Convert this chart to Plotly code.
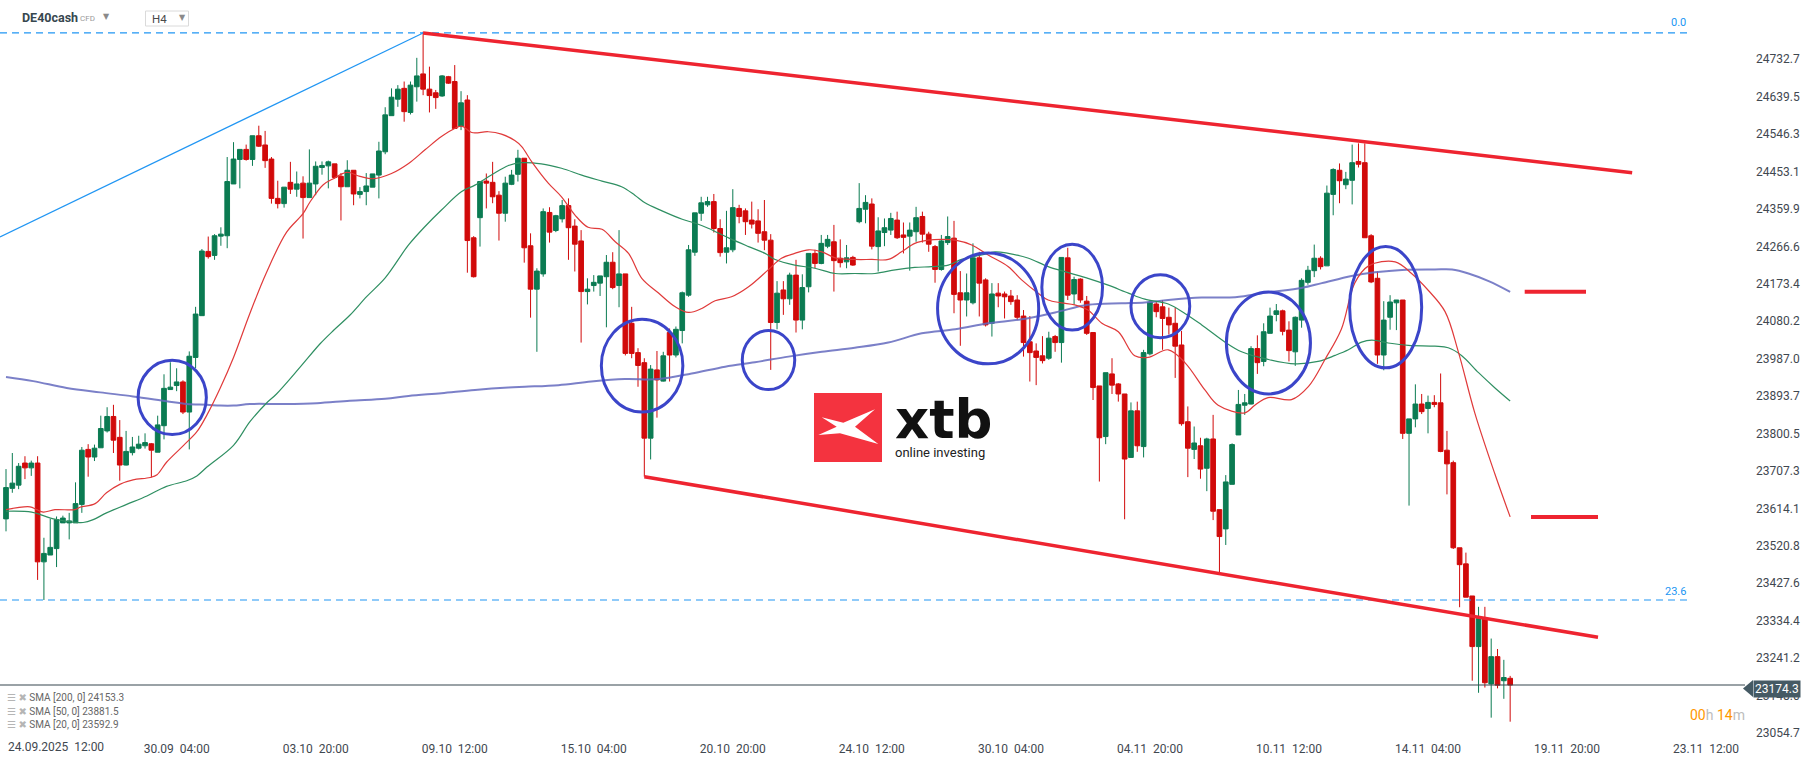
import plotly.graph_objects as go

W, H = 1815, 761
ML, MR, MT, MB = 0, 66, 0, 21
PW = W - ML - MR
PH = H - MT - MB

# ---------------- data ----------------
opens = [23588, 23664, 23672, 23727, 23715, 23727, 23481, 23498, 23514, 23578,
         23578, 23578, 23624, 23761, 23742, 23765, 23807, 23843, 23791, 23722,
         23753, 23764, 23770, 23775, 23754, 23820, 23910, 23920, 23929, 23854,
         23990, 24094, 24254, 24244, 24292, 24293, 24422, 24483, 24508, 24483,
         24542, 24519, 24484, 24386, 24373, 24426, 24409, 24424, 24388, 24422,
         24463, 24467, 24472, 24441, 24415, 24456, 24396, 24403, 24414, 24444,
         24502, 24592, 24633, 24660, 24600, 24664, 24696, 24658, 24649, 24641,
         24689, 24677, 24565, 24631, 24288, 24338, 24429, 24426, 24394, 24349,
         24421, 24446, 24486, 24268, 24160, 24198, 24351, 24306, 24335, 24368,
         24317, 24280, 24154, 24169, 24175, 24191, 24227, 24169, 24198, 24075,
         24002, 23977, 23789, 23959, 23931, 24052, 23996, 24057, 24145, 24252,
         24349, 24370, 24378, 24311, 24252, 24258, 24361, 24355, 24332, 24330,
         24303, 24282, 24077, 24158, 24136, 24195, 24083, 24166, 24249, 24224,
         24267, 24278, 24237, 24228, 24239, 24328, 24359, 24372, 24266, 24301,
         24307, 24332, 24295, 24292, 24303, 24341, 24297, 24266, 24209, 24276,
         24287, 24151, 24133, 24126, 24238, 24183, 24075, 24150, 24148, 24143,
         24133, 24093, 24029, 24006, 23994, 23988, 24042, 24027, 24238, 24148,
         24185, 24130, 24052, 23919, 23793, 23949, 23924, 23899, 23741, 23857,
         23768, 23999, 24123, 24116, 24090, 24075, 24021, 23830, 23761, 23770,
         23714, 23787, 23611, 23563, 23674, 23797, 23871, 23874, 24012, 23980,
         24050, 24097, 24106, 24058, 24004, 24083, 24177, 24206, 24237, 24218,
         24396, 24456, 24420, 24431, 24478, 24475, 24293, 24187, 23996, 24090,
         24126, 24133, 23801, 23837, 23874, 23863, 23878, 23877, 23759, 23728,
         23516, 23476, 23396, 23270, 23340, 23177, 23245, 23185, 23191]
highs = [23712, 23752, 23727, 23744, 23733, 23744, 23541, 23588, 23594, 23596,
         23603, 23679, 23767, 23774, 23773, 23845, 23866, 23872, 23834, 23807,
         23792, 23795, 23801, 23777, 23845, 23948, 23978, 23963, 23933, 24005,
         24116, 24260, 24291, 24297, 24314, 24489, 24526, 24508, 24520, 24542,
         24567, 24554, 24489, 24430, 24414, 24477, 24453, 24441, 24508, 24478,
         24478, 24480, 24472, 24449, 24481, 24456, 24414, 24449, 24447, 24527,
         24613, 24660, 24668, 24677, 24677, 24736, 24801, 24714, 24656, 24693,
         24691, 24718, 24653, 24643, 24292, 24428, 24448, 24477, 24404, 24440,
         24457, 24507, 24486, 24299, 24212, 24361, 24364, 24345, 24382, 24386,
         24334, 24307, 24187, 24195, 24193, 24245, 24252, 24307, 24198, 24116,
         24013, 23988, 23971, 24006, 24004, 24062, 24067, 24154, 24270, 24350,
         24390, 24390, 24397, 24334, 24355, 24409, 24370, 24361, 24378, 24359,
         24382, 24297, 24180, 24180, 24201, 24233, 24197, 24249, 24258, 24295,
         24295, 24320, 24284, 24270, 24243, 24424, 24394, 24386, 24339, 24336,
         24350, 24353, 24326, 24326, 24365, 24353, 24303, 24270, 24295, 24341,
         24330, 24205, 24199, 24274, 24253, 24187, 24175, 24175, 24154, 24158,
         24145, 24108, 24093, 24025, 24043, 24054, 24046, 24239, 24263, 24191,
         24187, 24143, 24052, 23919, 23952, 23988, 23926, 23899, 23878, 23880,
         24009, 24133, 24128, 24133, 24114, 24114, 24056, 23868, 23818, 23790,
         23790, 23847, 23611, 23697, 23776, 23909, 23899, 24018, 24045, 24075,
         24114, 24123, 24109, 24080, 24092, 24187, 24218, 24271, 24242, 24418,
         24461, 24473, 24452, 24520, 24523, 24523, 24297, 24204, 24130, 24145,
         24133, 24133, 23837, 23923, 23899, 23895, 23896, 23950, 23807, 23733,
         23516, 23504, 23396, 23369, 23369, 23290, 23264, 23237, 23197]
lows = [23557, 23653, 23662, 23687, 23695, 23436, 23386, 23498, 23468, 23578,
        23537, 23578, 23603, 23693, 23732, 23765, 23803, 23752, 23683, 23721,
        23746, 23761, 23763, 23691, 23754, 23786, 23910, 23906, 23849, 23761,
        23963, 24094, 24236, 24233, 24268, 24262, 24422, 24411, 24480, 24467,
        24514, 24462, 24373, 24361, 24363, 24397, 24390, 24286, 24388, 24394,
        24445, 24411, 24435, 24331, 24415, 24369, 24386, 24369, 24414, 24386,
        24496, 24592, 24614, 24577, 24595, 24627, 24643, 24600, 24609, 24639,
        24671, 24560, 24556, 24201, 24189, 24266, 24361, 24374, 24281, 24328,
        24419, 24428, 24226, 24089, 24004, 24191, 24276, 24302, 24326, 24233,
        24204, 24027, 24122, 24154, 24143, 24065, 24160, 24115, 23995, 23988,
        23917, 23693, 23736, 23840, 23930, 23930, 23990, 24025, 24141, 24243,
        24330, 24365, 24301, 24241, 24224, 24252, 24324, 24295, 24311, 24276,
        24257, 23959, 24060, 24096, 24121, 24052, 24060, 24152, 24212, 24222,
        24262, 24154, 24214, 24212, 24218, 24324, 24324, 24259, 24204, 24267,
        24295, 24285, 24249, 24206, 24278, 24276, 24253, 24176, 24206, 24270,
        24100, 24019, 24092, 24122, 24092, 24067, 24042, 24115, 24087, 24121,
        24083, 23992, 23930, 23921, 23975, 23984, 24004, 23977, 24133, 24121,
        24126, 24046, 23884, 23681, 23774, 23899, 23880, 23587, 23741, 23755,
        23741, 23995, 24090, 24009, 24047, 23939, 23820, 23692, 23737, 23688,
        23657, 23585, 23452, 23523, 23674, 23797, 23847, 23873, 23949, 23968,
        24050, 24080, 24045, 23980, 23969, 24064, 24171, 24190, 24209, 24218,
        24344, 24374, 24409, 24371, 24463, 24288, 24175, 23974, 23958, 24059,
        24058, 23787, 23621, 23816, 23849, 23801, 23866, 23754, 23649, 23513,
        23368, 23393, 23185, 23155, 23168, 23093, 23166, 23140, 23083]
closes = [23666, 23677, 23719, 23715, 23727, 23481, 23502, 23517, 23586, 23590,
          23583, 23626, 23759, 23742, 23764, 23813, 23843, 23784, 23722, 23756,
          23767, 23774, 23778, 23759, 23822, 23913, 23916, 23929, 23854, 23993,
          24098, 24255, 24241, 24293, 24297, 24428, 24484, 24508, 24483, 24542,
          24516, 24480, 24386, 24373, 24414, 24409, 24422, 24388, 24424, 24466,
          24468, 24477, 24438, 24415, 24456, 24397, 24403, 24417, 24447, 24504,
          24594, 24638, 24658, 24602, 24668, 24691, 24658, 24642, 24637, 24691,
          24673, 24560, 24624, 24281, 24191, 24428, 24424, 24390, 24349, 24424,
          24444, 24486, 24263, 24160, 24205, 24353, 24302, 24343, 24368, 24313,
          24272, 24154, 24160, 24177, 24193, 24227, 24164, 24198, 24000, 24000,
          23970, 23789, 23961, 23934, 23994, 23996, 24060, 24151, 24258, 24350,
          24375, 24378, 24311, 24251, 24263, 24363, 24341, 24328, 24322, 24299,
          24282, 24077, 24150, 24136, 24195, 24083, 24164, 24249, 24224, 24274,
          24284, 24231, 24226, 24238, 24220, 24361, 24376, 24267, 24305, 24313,
          24336, 24288, 24289, 24307, 24338, 24297, 24272, 24209, 24280, 24291,
          24147, 24133, 24151, 24238, 24175, 24071, 24148, 24143, 24141, 24129,
          24090, 24027, 24002, 23990, 23982, 24038, 24027, 24239, 24145, 24184,
          24133, 24050, 23915, 23790, 23952, 23921, 23899, 23737, 23857, 23770,
          24002, 24128, 24104, 24087, 24071, 24018, 23825, 23764, 23777, 23712,
          23787, 23607, 23544, 23680, 23773, 23873, 23877, 24012, 23977, 24054,
          24093, 24106, 24055, 24007, 24090, 24182, 24207, 24237, 24216, 24399,
          24458, 24430, 24434, 24475, 24471, 24288, 24178, 23996, 24083, 24128,
          24133, 23801, 23837, 23874, 23855, 23878, 23873, 23756, 23725, 23516,
          23474, 23393, 23270, 23340, 23180, 23245, 23174, 23193, 23174.3]
bars = list(range(len(opens)))

sma20_x = [0, 3.8, 4.85, 5.9, 7.75, 10.9, 11.7, 14.1, 15.9, 18.0, 20.1, 22.8, 23.9, 25.4, 28.1,
           30.2, 31.8, 33.9, 36.0, 38.6, 41.2, 44.4, 47.0, 48.1, 50.2, 51.8, 53.9, 56.0, 58.1,
           61.0, 63.7, 66.3, 68.9, 71.0, 72.1, 73.7, 76.3, 78.4, 80.5, 81.6, 83.2, 85.8, 87.9,
           90.0, 92.1, 94.3, 96.4, 98.5, 100.6, 103.2, 105.9, 108.0, 110.1, 112.2, 114.8, 117.5,
           120.6, 122.7, 124.8, 127.0, 129.1, 131.2, 134.3, 137.0, 139.6, 141.7, 143.8, 145.9,
           148.1, 150.2, 152.8, 155.4, 158.6, 160.7, 163.3, 164.9, 167.0, 169.1, 171.2, 173.4,
           176.0, 178.6, 180.7, 183.9, 186.6, 189.7, 191.8, 196.0, 197.6, 199.7, 203.4, 206.1,
           208.7, 211.3, 213.4, 215.6, 219.8, 222.4, 225.1, 227.7, 229.8, 232.4, 235.6, 238.0]
sma20_y = [23611, 23618, 23611, 23605, 23611, 23611, 23617, 23626, 23653, 23674, 23685, 23691,
           23698, 23729, 23771, 23805, 23847, 23914, 23990, 24100, 24201, 24302, 24348, 24377,
           24420, 24435, 24451, 24441, 24435, 24448, 24473, 24507, 24540, 24560, 24566, 24550,
           24552, 24546, 24530, 24515, 24477, 24424, 24390, 24345, 24314, 24309, 24278, 24249,
           24187, 24151, 24116, 24102, 24112, 24131, 24141, 24166, 24208, 24237, 24249, 24258,
           24253, 24238, 24234, 24234, 24234, 24253, 24274, 24282, 24284, 24282, 24270, 24245,
           24216, 24183, 24150, 24133, 24126, 24121, 24108, 24075, 24054, 23994, 23990, 24009,
           23976, 23909, 23871, 23852, 23871, 23890, 23885, 23918, 23985, 24061, 24175, 24218,
           24228, 24199, 24156, 24104, 24004, 23852, 23699, 23592.9]

sma50_x = [0, 4.06, 5.9, 7.49, 9.6, 12.2, 13.8, 15.9, 19.1, 22.3, 25.4, 28.6, 30.2, 31.8, 36.0,
           38.6, 41.2, 42.8, 46.5, 49.7, 51.8, 54.4, 57.1, 60.0, 63.7, 66.3, 68.9, 72.1, 74.2,
           76.8, 79.5, 81.6, 84.7, 87.9, 91.1, 94.3, 97.4, 99.5, 101.1, 103.8, 107.0, 109.1,
           111.2, 114.4, 117.5, 120.1, 121.7, 124.8, 128.0, 131.2, 134.3, 137.5, 140.7, 143.8,
           146.5, 149.1, 151.2, 154.4, 156.5, 158.6, 161.8, 164.9, 168.1, 171.2, 174.4, 177.6,
           180.2, 183.9, 186.6, 189.2, 192.9, 195.5, 199.7, 204.0, 207.6, 210.3, 212.4, 214.5,
           216.1, 218.7, 221.9, 226.1, 228.2, 230.3, 233.0, 235.6, 238.0]
sma50_y = [23607, 23605, 23596, 23588, 23582, 23579, 23586, 23603, 23624, 23645, 23669, 23683,
           23695, 23717, 23771, 23830, 23876, 23899, 23965, 24024, 24057, 24095, 24142, 24188,
           24270, 24316, 24357, 24403, 24419, 24444, 24468, 24475, 24472, 24461, 24444, 24429,
           24415, 24394, 24375, 24355, 24334, 24324, 24311, 24287, 24266, 24249, 24234, 24220,
           24212, 24199, 24199, 24199, 24208, 24214, 24216, 24220, 24234, 24245, 24253, 24249,
           24237, 24216, 24201, 24187, 24170, 24150, 24135, 24123, 24099, 24071, 24028, 24004,
           23985, 23974, 23980, 23995, 24009, 24028, 24033, 24026, 24020, 24018, 24014, 23995,
           23952, 23914, 23881.5]

sma200_x = [0, 4.3, 9.6, 14.9, 20.1, 25.4, 28.6, 31.8, 33.9, 36.0, 38.6, 43.9, 49.2, 54.4,
            60.0, 63.7, 68.9, 74.2, 79.5, 82.1, 87.4, 92.6, 97.9, 103.2, 108.5, 113.8, 118.5,
            123.8, 129.1, 134.3, 139.6, 144.9, 150.2, 155.4, 160.7, 166.0, 171.2, 176.5, 180.2,
            183.9, 189.2, 194.5, 199.7, 205.0, 208.2, 212.9, 216.6, 220.9, 226.1, 228.8, 231.4,
            234.6, 238.0]
sma200_y = [23941, 23931, 23914, 23903, 23893, 23881, 23874, 23872, 23870, 23870, 23874, 23874,
            23876, 23882, 23887, 23894, 23901, 23909, 23915, 23917, 23921, 23930, 23936, 23936,
            23950, 23967, 23978, 23992, 24004, 24014, 24027, 24050, 24060, 24075, 24085, 24102,
            24121, 24125, 24127, 24133, 24139, 24140, 24152, 24163, 24175, 24193, 24202, 24208,
            24209, 24209, 24199, 24180, 24153.3]

x_tickvals = [27, 49, 71, 93, 115, 137, 159, 181, 203, 225, 247, 269]
x_ticktext = ["30.09  04:00", "03.10  20:00", "09.10  12:00", "15.10  04:00", "20.10  20:00",
              "24.10  12:00", "30.10  04:00", "04.11  20:00", "10.11  12:00", "14.11  04:00",
              "19.11  20:00", "23.11  12:00"]
first_label = "24.09.2025  12:00"
y_tickvals = [23054.7, 23148.0, 23241.2, 23334.4, 23427.6, 23520.8, 23614.1, 23707.3, 23800.5,
              23893.7, 23987.0, 24080.2, 24173.4, 24266.6, 24359.9, 24453.1, 24546.3, 24639.5,
              24732.7]

# drawing annotations (bar index, price)
fib_levels = [24798, 23386]
fib_labels = ["0.0", "23.6"]
fib_anchor_x = [-0.95, 66]
fib_anchor_y = [24290, 24798]
channel_top_x = [66, 257.3]
channel_top_y = [24798, 24450]
channel_bot_x = [101, 251.9]
channel_bot_y = [23693, 23293]
level_segments = [(240.3, 250.0, 24153.3), (241.3, 251.9, 23592.9)]
ellipses = [(20.9, 31.7, 23798, 23983), (94.2, 107.1, 23854, 24085),
            (116.5, 124.8, 23910, 24057), (147.4, 163.4, 23974, 24250),
            (163.9, 173.5, 24058, 24272), (178.0, 187.3, 24039, 24196),
            (193.1, 206.4, 23899, 24153), (212.6, 224.0, 23964, 24266)]

# ---------------- axes mapping ----------------
X0PX, XSTEP = 6.0, 6.32
YTOP, YPERPX = 24880.0, 2.49
x_range = [(0 - X0PX) / XSTEP, (PW - X0PX) / XSTEP]
y_range = [YTOP - YPERPX * PH, YTOP]


def px(xp):
    return (xp - ML) / PW


def py(yp):
    return (PH - (yp - MT)) / PH


GREEN = "#0b7b52"
RED = "#d10a0a"
FONT = "Roboto"
TXT = "#3f4850"

fig = go.Figure()
fig.add_trace(go.Candlestick(
    x=bars, open=opens, high=highs, low=lows, close=closes,
    increasing=dict(line=dict(color=GREEN, width=1), fillcolor=GREEN),
    decreasing=dict(line=dict(color=RED, width=1), fillcolor=RED),
    whiskerwidth=0, hoverinfo="skip"))
fig.add_trace(go.Scatter(x=sma200_x, y=sma200_y, mode="lines",
                         line=dict(color="rgba(100,106,190,0.85)", width=2, shape="spline")))
fig.add_trace(go.Scatter(x=sma50_x, y=sma50_y, mode="lines",
                         line=dict(color="#2f8f62", width=1.2, shape="spline")))
fig.add_trace(go.Scatter(x=sma20_x, y=sma20_y, mode="lines",
                         line=dict(color="#e03a3a", width=1.2, shape="spline")))

shapes = []
for lv in fib_levels:
    shapes.append(dict(type="line", xref="x", yref="y", x0=x_range[0], x1=(1690 - X0PX) / XSTEP,
                       y0=lv, y1=lv, line=dict(color="#2196f3", width=1.2, dash="7px,5px")))
shapes.append(dict(type="line", xref="x", yref="y", x0=fib_anchor_x[0], x1=fib_anchor_x[1],
                   y0=fib_anchor_y[0], y1=fib_anchor_y[1], line=dict(color="#2196f3", width=1.2)))
shapes.append(dict(type="line", xref="x", yref="y", x0=channel_top_x[0], x1=channel_top_x[1],
                   y0=channel_top_y[0], y1=channel_top_y[1], line=dict(color="#ee2430", width=3.5)))
shapes.append(dict(type="line", xref="x", yref="y", x0=channel_bot_x[0], x1=channel_bot_x[1],
                   y0=channel_bot_y[0], y1=channel_bot_y[1], line=dict(color="#ee2430", width=3.5)))
for a, b, lv in level_segments:
    shapes.append(dict(type="line", xref="x", yref="y", x0=a, x1=b, y0=lv, y1=lv,
                       line=dict(color="#ee2430", width=4)))
for a, b, lo, hi in ellipses:
    shapes.append(dict(type="circle", xref="x", yref="y", x0=a, x1=b, y0=lo, y1=hi,
                       line=dict(color="#3b45c9", width=3)))
# current price line + marker arrow
shapes.append(dict(type="line", xref="paper", yref="y", x0=0, x1=px(1745),
                   y0=closes[-1], y1=closes[-1], line=dict(color="#37474f", width=1.2)))
shapes.append(dict(type="path", xref="paper", yref="paper",
                   path=f"M {px(1743)} {py(688.5)} L {px(1753)} {py(680)} L {px(1753)} {py(697)} Z",
                   fillcolor="#455a64", line=dict(width=0)))
# H4 box
shapes.append(dict(type="rect", xref="paper", yref="paper", x0=px(145.5), x1=px(188.5),
                   y0=py(26), y1=py(11), line=dict(color="#dadada", width=1), fillcolor="white"))
# logo
shapes.append(dict(type="rect", xref="paper", yref="paper", x0=px(814), x1=px(882),
                   y0=py(462), y1=py(393), line=dict(width=0), fillcolor="#f4333f"))
xpts = [(821.7, 417.3), (843.3, 422.7), (875, 409.3), (855, 426.7), (878.3, 444),
        (840, 433.3), (818.3, 435), (836.7, 426.7)]
path = "M " + " L ".join(f"{px(a)} {py(b)}" for a, b in xpts) + " Z"
shapes.append(dict(type="path", xref="paper", yref="paper", path=path,
                   fillcolor="white", line=dict(width=0)))

ann = []


def text(xp, yp, s, size=12, color=TXT, anchor="left", weight="normal", family=FONT, **kw):
    ann.append(dict(xref="paper", yref="paper", x=px(xp), y=py(yp), text=s, showarrow=False,
                    xanchor=anchor, yanchor="middle",
                    font=dict(size=size, color=color, family=family, weight=weight), **kw))


text(20, 18, "DE40cash", size=12.5, color="#37474f", weight="bold")
text(78, 19, "CFD", size=8, color="#9a9a9a")
text(101, 17, "▼", size=8, color="#8a8a8a", family="DejaVu Sans")
text(150, 19, "H4", size=11.5, color="#4a4a4a")
text(177, 17.5, "▼", size=8, color="#8a8a8a", family="DejaVu Sans")
text(6, 747, first_label, size=12, color=TXT)
text(1688, 22, fib_labels[0], size=11, color="#2196f3", anchor="right")
text(1688, 591, fib_labels[1], size=11, color="#2196f3", anchor="right")
text(1753, 688.5, f"{closes[-1]:.1f}", size=12, color="white", bgcolor="#455a64", borderpad=1)
text(1688, 715,
     "<span style='color:#ff9800'>00</span><span style='color:#bdbdbd'>h</span> "
     "<span style='color:#ff9800'>14</span><span style='color:#bdbdbd'>m</span>", size=14)
legend_rows = [(697, f"SMA [200, 0] {sma200_y[-1]:.1f}"), (711, f"SMA [50, 0] {sma50_y[-1]:.1f}"),
               (724, f"SMA [20, 0] {sma20_y[-1]:.1f}")]
for yy, s in legend_rows:
    text(5, yy, "<span style='color:#b5b5b5'>☰ ✖</span> " + s, size=10, color="#666666",
         family="Roboto, DejaVu Sans")
text(893, 419, "xtb", size=53, color="#111111", weight="bold", family="DejaVu Sans")
text(893, 452, "online investing", size=13, color="#222222")

fig.update_layout(
    width=W, height=H, margin=dict(l=ML, r=MR, t=MT, b=MB),
    paper_bgcolor="white", plot_bgcolor="white", showlegend=False,
    font=dict(family=FONT, color=TXT),
    boxgap=0.26, boxgroupgap=0,
    shapes=shapes, annotations=ann,
    xaxis=dict(range=x_range, showgrid=False, zeroline=False, showline=False, ticks="",
               tickvals=x_tickvals, ticktext=x_ticktext, tickfont=dict(size=12, color=TXT),
               rangeslider=dict(visible=False), fixedrange=True),
    yaxis=dict(range=y_range, side="right", showgrid=False, zeroline=False, showline=False,
               ticks="", tickvals=y_tickvals, ticktext=[f"{v:.1f}" for v in y_tickvals],
               tickfont=dict(size=12, color=TXT), ticklabelstandoff=6, fixedrange=True),
)
fig.write_html("out.html", config={"displayModeBar": False},
               post_script=["document.body.style.margin='0';"])
